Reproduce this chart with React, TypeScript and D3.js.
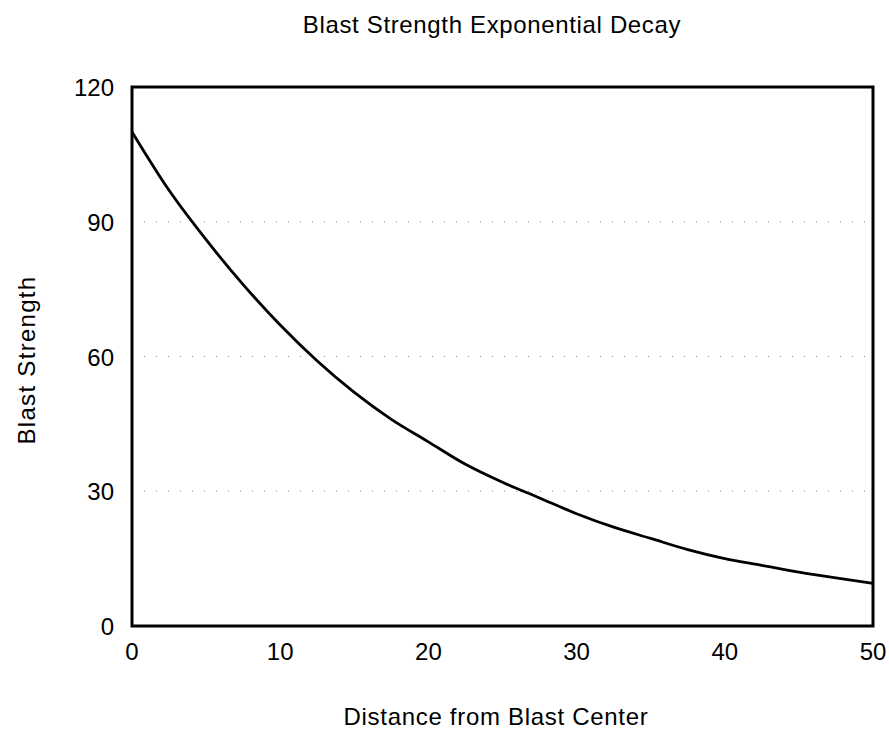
import * as d3 from 'd3'
import { useEffect, useRef } from 'react'

// values
const distances = [0, 2.5, 5, 7.5, 10, 12.5, 15, 17.5, 20, 22.5, 25, 27.5, 30, 32.5, 35, 37.5, 40, 42.5, 45, 47.5, 50]
const strengths = [110, 97, 86, 76, 67, 59, 52, 46, 41, 36, 32, 28.5, 25, 22, 19.5, 17, 15, 13.5, 12, 10.7, 9.5]
const xTicks = [0, 10, 20, 30, 40, 50]
const yTicks = [0, 30, 60, 90, 120]
const gridValues = [30, 60, 90]

const W = 889
const H = 730

const App = () => {
  const ref = useRef<SVGSVGElement>(null)

  useEffect(() => {
    const svg = d3.select(ref.current)
    svg.selectAll('*').remove()
    const m = { left: 132, right: 873, top: 87, bottom: 626 }
    const x = d3.scaleLinear().domain([0, 50]).range([m.left, m.right])
    const y = d3.scaleLinear().domain([0, 120]).range([m.bottom, m.top])
    const font = '"Liberation Sans", Arial, sans-serif'

    // dotted grid
    svg.selectAll('.grid').data(gridValues).enter().append('line')
      .attr('x1', x(0)).attr('x2', x(50))
      .attr('y1', d => y(d)).attr('y2', d => y(d))
      .attr('stroke', '#888').attr('stroke-width', 1)
      .attr('stroke-dasharray', '1 11')

    // frame
    svg.append('rect')
      .attr('x', m.left).attr('y', m.top)
      .attr('width', m.right - m.left).attr('height', m.bottom - m.top)
      .attr('fill', 'none').attr('stroke', '#000').attr('stroke-width', 3)

    // curve
    const line = d3.line<number>()
      .x((d, i) => x(distances[i]))
      .y(d => y(d))
      .curve(d3.curveMonotoneX)
    svg.append('path').datum(strengths)
      .attr('d', line)
      .attr('fill', 'none').attr('stroke', '#000').attr('stroke-width', 2.8)

    // tick labels
    svg.selectAll('.xt').data(xTicks).enter().append('text')
      .attr('x', d => x(d)).attr('y', 660)
      .attr('text-anchor', 'middle')
      .attr('font-family', font).attr('font-size', 24)
      .text(d => d)
    svg.selectAll('.yt').data(yTicks).enter().append('text')
      .attr('x', 114).attr('y', d => y(d) + 9)
      .attr('text-anchor', 'end')
      .attr('font-family', font).attr('font-size', 24)
      .text(d => d)

    // titles
    svg.append('text')
      .attr('x', 492).attr('y', 33)
      .attr('text-anchor', 'middle')
      .attr('font-family', font).attr('font-size', 24)
      .attr('letter-spacing', 0.65)
      .text('Blast Strength Exponential Decay')
    svg.append('text')
      .attr('x', 496).attr('y', 725)
      .attr('text-anchor', 'middle')
      .attr('font-family', font).attr('font-size', 24)
      .attr('letter-spacing', 0.7)
      .text('Distance from Blast Center')
    svg.append('text')
      .attr('transform', 'translate(35,360) rotate(-90)')
      .attr('text-anchor', 'middle')
      .attr('font-family', font).attr('font-size', 24)
      .attr('letter-spacing', 1.3)
      .text('Blast Strength')
  }, [])

  return <svg ref={ref} width={W} height={H} style={{ position: 'absolute', left: 0, top: 0, background: '#fff' }} />
}

export default App
